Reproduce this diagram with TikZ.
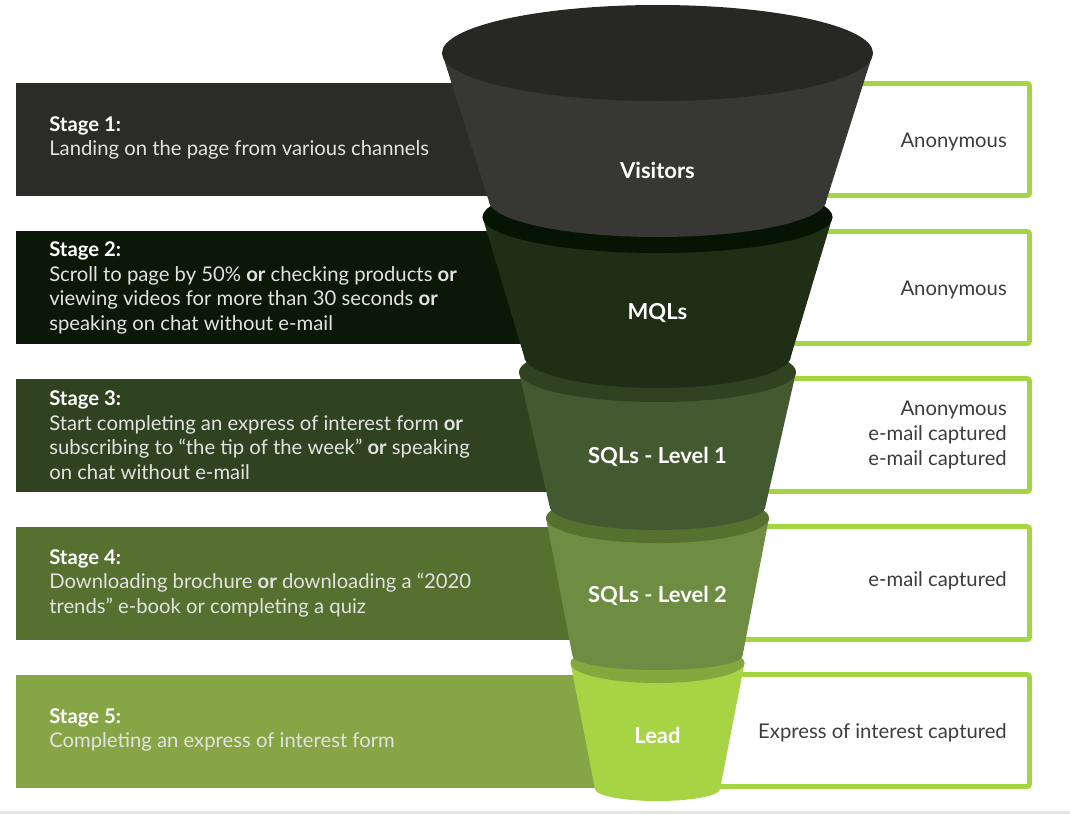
\documentclass[tikz,border=0pt]{standalone}
\usepackage{fontspec}
\setmainfont{Lato}

\definecolor{barone}{HTML}{2B2B28}
\definecolor{bartwo}{HTML}{0B1807}
\definecolor{barthree}{HTML}{2F4320}
\definecolor{barfour}{HTML}{56702F}
\definecolor{barfive}{HTML}{86A646}
\definecolor{boxgreen}{HTML}{A6D544}
\definecolor{stagegrey}{HTML}{E2E2E2}
\definecolor{statusgrey}{HTML}{3C3C3C}
\definecolor{bodyone}{HTML}{373834}
\definecolor{rimone}{HTML}{272824}
\definecolor{bodytwo}{HTML}{1F2F16}
\definecolor{rimtwo}{HTML}{051403}
\definecolor{bodythree}{HTML}{435A30}
\definecolor{rimthree}{HTML}{2F4321}
\definecolor{bodyfour}{HTML}{6E8C42}
\definecolor{rimfour}{HTML}{567030}
\definecolor{bodyfive}{HTML}{A6D444}
\definecolor{rimfive}{HTML}{84A83E}

\begin{document}
\begin{tikzpicture}[
  x=0.75pt, y=-0.75pt,
  greenbox/.style={draw=boxgreen, line width=3.4pt, rounded corners=1.5pt},
  stagetext/.style={anchor=west, align=left, inner sep=0pt, text=stagegrey,
    font=\fontsize{15.2}{18.4}\selectfont},
  statustext/.style={anchor=east, align=right, inner sep=0pt, text=statusgrey,
    font=\fontsize{15.2}{18.4}\selectfont},
  segtext/.style={text=white, inner sep=0pt, font=\bfseries\fontsize{16.5}{19}\selectfont}
]

\useasboundingbox (0,0) rectangle (1070,814);
\fill[gray!20] (0,811) rectangle (1070,814);

% ---------- stage bars (left) ----------
\fill[barone]   (16,83)  rectangle (657,196);
\fill[bartwo]   (16,231) rectangle (657,344);
\fill[barthree] (16,379) rectangle (657,492);
\fill[barfour]  (16,527) rectangle (657,640);
\fill[barfive]  (16,675) rectangle (657,788);

% ---------- status boxes (right) ----------
\draw[greenbox] (657,83.5)  rectangle (1029.5,195.5);
\draw[greenbox] (657,231.5) rectangle (1029.5,343.5);
\draw[greenbox] (657,378.5) rectangle (1029.5,491.5);
\draw[greenbox] (657,526.5) rectangle (1029.5,639.5);
\draw[greenbox] (657,674.5) rectangle (1029.5,786.5);

\newcommand{\stagehead}[1]{\textcolor{white}{\textbf{Stage #1:}}}

\node[stagetext] (stage1) at (49,138)
  {\stagehead{1}\\Landing on the page from various channels};
\node[stagetext] (stage2) at (49,288)
  {\stagehead{2}\\Scroll to page by 50\% \textbf{or} checking products \textbf{or}\\
   viewing videos for more than 30 seconds \textbf{or}\\speaking on chat without e-mail};
\node[stagetext] (stage3) at (49,435)
  {\stagehead{3}\\Start completing an express of interest form \textbf{or}\\
   subscribing to “the tip of the week” \textbf{or} speaking\\on chat without e-mail};
\node[stagetext] (stage4) at (49,583)
  {\stagehead{4}\\Downloading brochure \textbf{or} downloading a “2020\\
   trends” e-book or completing a quiz};
\node[stagetext] (stage5) at (49,730)
  {\stagehead{5}\\Completing an express of interest form};

\node[statustext] (status1) at (1007,142) {Anonymous};
\node[statustext] (status2) at (1007,290) {Anonymous};
\node[statustext] (status3) at (1007,435) {Anonymous\\e-mail captured\\e-mail captured};
\node[statustext] (status4) at (1007,581) {e-mail captured};
\node[statustext] (status5) at (1007,733) {Express of interest captured};

% ---------- funnel ----------
\def\cx{657.5}
% #1 = rim y, #2 = rim x radius, #3 = rim y radius,
% #4 = bottom y, #5 = bottom half width, #6 = bottom y radius, #7 = body, #8 = rim
\newcommand{\placeSeg}[8]{%
  \fill[#7] (\cx-#2,#1) -- (\cx-#5,#4)
    arc[start angle=180, end angle=0, x radius=#5, y radius=#6]
    -- (\cx+#2,#1) -- cycle;
  \fill[#8] (\cx,#1) ellipse [x radius=#2, y radius=#3];
}

% drawn bottom up, so each segment covers the rim below it
\placeSeg{663}{87}{20}{789}{62.5}{12}{bodyfive}{rimfive}
\placeSeg{518}{111.5}{25}{656}{85}{14}{bodyfour}{rimfour}
\placeSeg{372}{138.5}{30}{506}{108}{24}{bodythree}{rimthree}
\placeSeg{217}{175}{36}{356}{133.5}{32}{bodytwo}{rimtwo}
\placeSeg{53}{215.5}{48}{200}{169}{37}{bodyone}{rimone}

\node[segtext] (visitors) at (657.5,170) {Visitors};
\node[segtext] (mqls)     at (657.5,313) {MQLs};
\node[segtext] (sqlone)   at (657.5,457) {SQLs - Level 1};
\node[segtext] (sqltwo)   at (657.5,596) {SQLs - Level 2};
\node[segtext] (lead)     at (657.5,735) {Lead};
\end{tikzpicture}
\end{document}
